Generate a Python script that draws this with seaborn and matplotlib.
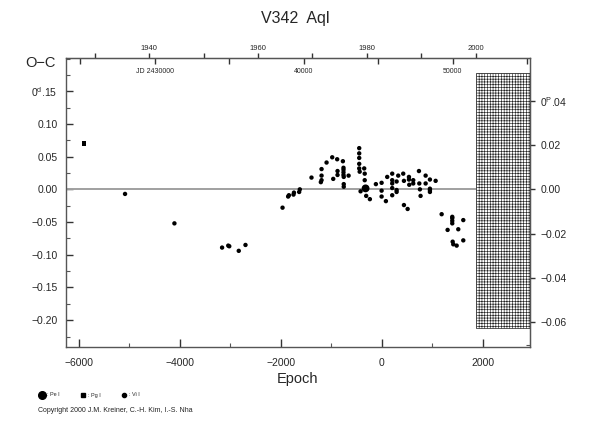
import numpy as np
import pandas as pd
import matplotlib
matplotlib.use("Agg")
import matplotlib.pyplot as plt
import seaborn as sns
from matplotlib.patches import Rectangle
from matplotlib.lines import Line2D
from matplotlib.ticker import MultipleLocator, FixedLocator, FuncFormatter

# ---------------- data ----------------
vi_epoch = [-5082, -4105, -3162, -3040, -3020, -2832, -2699, -1966, -1855, -1840,
            -1749, -1740, -1637, -1624, -1393, -1208, -1194, -1194, -1194, -1095,
            -983, -963, -885, -878, -878, -772, -760, -760, -760, -760,
            -755, -755, -755, -659, -449, -449, -449, -449, -449, -440,
            -350, -340, -340, -422, -311, -238, -119, -6, -6, -6,
            79, 105, 204, 204, 204, 204, 204, 291, 291, 291,
            323, 422, 436, 436, 509, 535, 535, 541, 620, 620,
            733, 740, 752, 765, 865, 865, 950, 950, 950, 950,
            1063, 1182, 1300, 1392, 1392, 1392, 1392, 1400, 1412, 1479,
            1511, 1610, 1610]
vi_oc = [-0.007, -0.052, -0.089, -0.086, -0.087, -0.094, -0.085, -0.028, -0.011, -0.009,
         -0.008, -0.005, -0.004, 0.000, 0.018, 0.011, 0.014, 0.021, 0.031, 0.041,
         0.049, 0.016, 0.046, 0.022, 0.028, 0.043, 0.033, 0.030, 0.026, 0.022,
         0.019, 0.008, 0.004, 0.021, 0.063, 0.055, 0.048, 0.039, 0.032, 0.027,
         0.032, 0.024, 0.014, -0.003, -0.010, -0.015, 0.008, 0.010, -0.002, -0.011,
         -0.018, 0.019, 0.024, 0.014, 0.009, 0.002, -0.009, 0.012, -0.001, -0.004,
         0.021, 0.024, 0.013, -0.024, -0.030, 0.019, 0.015, 0.007, 0.014, 0.009,
         0.028, 0.009, 0.000, -0.010, 0.021, 0.009, 0.015, 0.001, -0.001, -0.004,
         0.013, -0.038, -0.062, -0.042, -0.044, -0.048, -0.052, -0.080, -0.084, -0.086,
         -0.061, -0.047, -0.078]
pe_epoch = [-323]
pe_oc = [0.0015]
pg_epoch = [-5893]
pg_oc = [0.070]

period = 3.3908          # days
t0 = 2445250.0           # JD of epoch 0
title = "V342  Aql"
copyright_text = "Copyright 2000 J.M. Kreiner, C.-H. Kim, I.-S. Nha"

df = pd.concat([
    pd.DataFrame({"epoch": pe_epoch, "oc": pe_oc, "type": "Pe I"}),
    pd.DataFrame({"epoch": pg_epoch, "oc": pg_oc, "type": "Pg I"}),
    pd.DataFrame({"epoch": vi_epoch, "oc": vi_oc, "type": "Vi I"}),
], ignore_index=True)

# ---------------- figure ----------------
sns.set_style("white")
plt.rcParams["font.family"] = ["Liberation Sans", "DejaVu Sans"]
plt.rcParams["mathtext.fontset"] = "custom"
plt.rcParams["mathtext.rm"] = "Liberation Sans"
plt.rcParams["mathtext.it"] = "Liberation Sans"
plt.rcParams["hatch.linewidth"] = 0.45
plt.rcParams["axes.unicode_minus"] = True

fig = plt.figure(figsize=(5.9, 4.25), dpi=100)
ax = fig.add_axes([66 / 590, 1 - 347 / 425, (530 - 66) / 590, (347 - 58) / 425])

xmin, xmax = -6250, 2930
ymin, ymax = -0.241, 0.2008
ax.set_xlim(xmin, xmax)
ax.set_ylim(ymin, ymax)

def epoch_to_year(e):
    return 2000.0 + (t0 + period * np.asarray(e) - 2451545.0) / 365.25

def year_to_epoch(y):
    return ((np.asarray(y) - 2000.0) * 365.25 + 2451545.0 - t0) / period

def epoch_to_jd(e):
    return t0 + period * np.asarray(e) - 2400000.0

def jd_to_epoch(j):
    return (np.asarray(j) + 2400000.0 - t0) / period

def fmt_with_unit(top_value, unit):
    def f(v, p):
        s = f"{v:.2f}".replace("-", "\u2212")
        if abs(v - top_value) < 1e-6:
            s = s.replace(".", r"$^{\rm " + unit + r"}$.", 1)
        return s
    return FuncFormatter(f)

# hatched region (future)
e2000 = float(year_to_epoch(2000))
ax.add_patch(Rectangle((e2000, -0.212), xmax - e2000, 0.178 + 0.212,
                       facecolor="white", edgecolor="#222222", hatch="++++++",
                       linewidth=0.5, zorder=1))

# zero line
ax.hlines(0, xmin, e2000, color="#a0a0a0", linewidth=1.4, zorder=2)

sns.scatterplot(data=df, x="epoch", y="oc", style="type", size="type",
                markers={"Pe I": "o", "Pg I": "s", "Vi I": "o"},
                sizes={"Pe I": 32, "Pg I": 11, "Vi I": 10},
                color="black", edgecolor="black", linewidth=0, legend=False,
                ax=ax, zorder=3)

ax.set_xlabel("Epoch", fontsize=10.5, labelpad=3)
ax.set_ylabel("")

for s in ax.spines.values():
    s.set_color("#555555")
    s.set_linewidth(1.0)

# bottom axis
ax.xaxis.set_major_locator(FixedLocator([-6000, -4000, -2000, 0, 2000]))
ax.xaxis.set_minor_locator(MultipleLocator(1000))
ax.tick_params(axis="x", which="major", direction="in", length=6, width=1,
               color="#333333", labelsize=7.5, pad=8, bottom=True, top=False)
ax.tick_params(axis="x", which="minor", direction="in", length=3, width=0.8,
               color="#555555", bottom=True, top=False)

# left axis
ax.yaxis.set_major_locator(FixedLocator([-0.20, -0.15, -0.10, -0.05, 0.0, 0.05, 0.10, 0.15]))
ax.yaxis.set_minor_locator(MultipleLocator(0.025))
ax.yaxis.set_major_formatter(fmt_with_unit(0.15, "d"))
ax.tick_params(axis="y", which="major", direction="in", length=5, width=1,
               color="#333333", labelsize=7.5, pad=6, left=True, right=False)
ax.tick_params(axis="y", which="minor", direction="in", length=3, width=0.8,
               color="#555555", left=True, right=False)

# right axis in phase units
sec_y = ax.secondary_yaxis("right", functions=(lambda d: d / period, lambda p: p * period))
sec_y.yaxis.set_major_locator(FixedLocator([-0.06, -0.04, -0.02, 0.0, 0.02, 0.04]))
sec_y.yaxis.set_minor_locator(MultipleLocator(0.01))
sec_y.yaxis.set_major_formatter(fmt_with_unit(0.04, "P"))
sec_y.tick_params(which="major", direction="inout", length=7, width=1, color="#333333",
                  labelsize=7.5, pad=4)
sec_y.tick_params(which="minor", direction="in", length=3, width=0.8, color="#555555")
sec_y.spines["right"].set_color("#555555")

# top axis: years (outward)
sec_year = ax.secondary_xaxis("top", functions=(epoch_to_year, year_to_epoch))
sec_year.xaxis.set_major_locator(FixedLocator([1940, 1960, 1980, 2000]))
sec_year.xaxis.set_minor_locator(FixedLocator([1930, 1950, 1970, 1990]))
sec_year.tick_params(which="major", direction="out", length=3.5, width=1, color="#333333",
                     labelsize=5.5, pad=1)
sec_year.tick_params(which="minor", direction="out", length=3.5, width=1, color="#333333")
sec_year.spines["top"].set_color("#555555")

# top axis: JD (inward)
sec_jd = ax.secondary_xaxis("top", functions=(epoch_to_jd, jd_to_epoch))
sec_jd.xaxis.set_major_locator(FixedLocator([30000, 40000, 50000]))
sec_jd.xaxis.set_minor_locator(FixedLocator([25000, 35000, 45000, 55000]))
sec_jd.xaxis.set_major_formatter(FuncFormatter(
    lambda v, p: "JD 2430000" if abs(v - 30000) < 1 else f"{v:.0f}"))
sec_jd.tick_params(which="major", direction="in", length=4, width=1, color="#333333",
                   labelsize=5, pad=-12)
sec_jd.tick_params(which="minor", direction="in", length=4, width=1, color="#333333")
sec_jd.spines["top"].set_visible(False)

# texts
fig.text(295 / 590, 1 - 19 / 425, title, ha="center", va="center", fontsize=11.5)
fig.text(40 / 590, 1 - 63 / 425, "O\u2212C", ha="center", va="center", fontsize=10.5)

# legend of symbols
handles = [
    Line2D([], [], linestyle="none", marker="o", markersize=5.5, color="black"),
    Line2D([], [], linestyle="none", marker="s", markersize=3, color="black"),
    Line2D([], [], linestyle="none", marker="o", markersize=3, color="black"),
]
fig.legend(handles, [": Pe I", ": Pg I", ": Vi I"], loc="center left",
           bbox_to_anchor=(40 / 590, 1 - 395 / 425), ncol=3, frameon=False,
           fontsize=4, handlelength=0.8, handletextpad=0.4, columnspacing=3.9,
           borderaxespad=0, borderpad=0)
fig.text(38 / 590, 1 - 411 / 425, copyright_text, ha="left", va="center",
         fontsize=5, color="#222222")

fig.savefig("out.png", dpi=100)
